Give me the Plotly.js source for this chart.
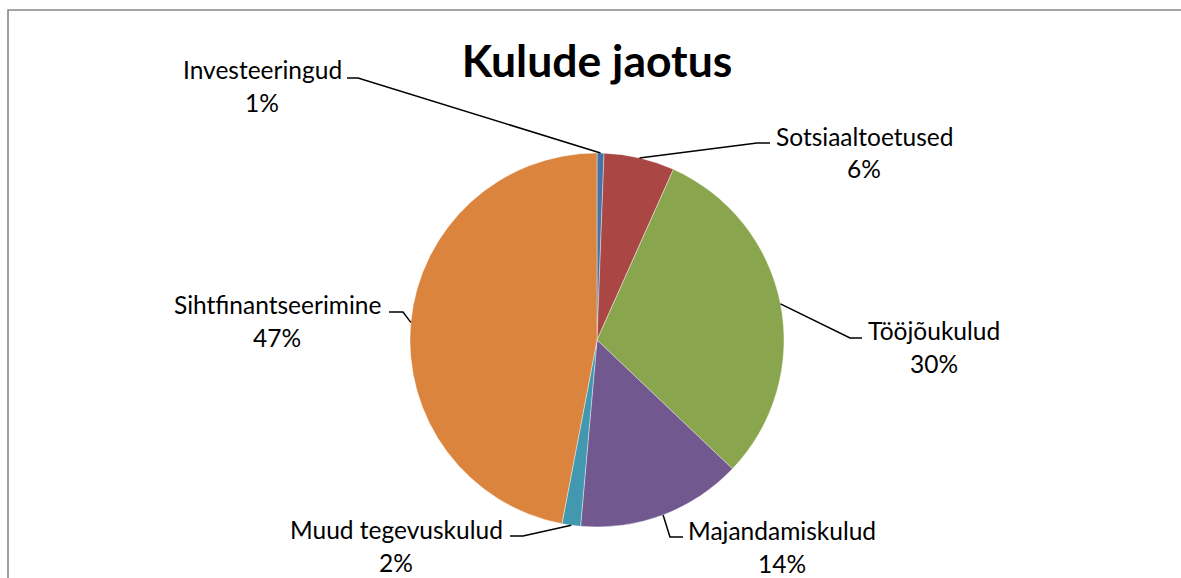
<!DOCTYPE html>
<html>
<head>
<meta charset="utf-8">
<script src="https://cdn.plot.ly/plotly-3.0.1.min.js"></script>
<style>
html,body{margin:0;padding:0;background:#fff;}
#chart{width:1181px;height:578px;}
</style>
</head>
<body>
<div id="chart"></div>
<script>
// ---- data ----
const categories = ['Investeeringud', 'Sotsiaaltoetused', 'Tööjõukulud', 'Majandamiskulud', 'Muud tegevuskulud', 'Sihtfinantseerimine'];
const values = [0.6, 6.1, 30.4, 14.3, 1.6, 47.0];
const sliceColors = ['#4572A7', '#AA4643', '#89A54E', '#71588F', '#4198AF', '#DB843D'];
const chartTitle = 'Kulude jaotus';

// ---- layout geometry (pixels) ----
const W = 1181, H = 578;
const CX = 597, CY = 340, R = 187;
const FONT = 'Lato, "Noto Sans", sans-serif';
// label block: text centre x, baseline of first line, leader elbow and end
const labelGeom = [
  {x: 262, base: 78, elbow: [358, 78], end: [347, 78]},
  {x: 864, base: 144, elbow: [757, 143], end: [770, 143]},
  {x: 934, base: 338, elbow: [850, 338], end: [862, 338]},
  {x: 782, base: 538, elbow: [670, 537], end: [683, 537]},
  {x: 396, base: 537, elbow: [523, 536], end: [510, 536]},
  {x: 277, base: 312, elbow: [403, 312], end: [389, 312]}
];
const LINE_GAP = 33;
const FS = 24.5;
const BASE_SHIFT = 8; // from baseline to visual middle of the annotation box

const px = x => x / W;
const py = y => 1 - y / H;

const total = values.reduce((a, b) => a + b, 0);
const shapes = [];
const annotations = [];
let cum = 0;
values.forEach((v, i) => {
  const mid = (cum + v / 2) / total * 2 * Math.PI;
  cum += v;
  const ex = CX + R * Math.sin(mid);
  const ey = CY - R * Math.cos(mid);
  const g = labelGeom[i];
  shapes.push({
    type: 'path', xref: 'paper', yref: 'paper',
    path: `M ${px(ex)} ${py(ey)} L ${px(g.elbow[0])} ${py(g.elbow[1])} L ${px(g.end[0])} ${py(g.end[1])}`,
    line: {color: '#000', width: 1.5}
  });
  const pct = Math.round(v / total * 100) + '%';
  annotations.push({
    xref: 'paper', yref: 'paper', x: px(g.x), y: py(g.base - BASE_SHIFT),
    xanchor: 'center', yanchor: 'middle', showarrow: false,
    text: categories[i], font: {family: FONT, size: FS, color: '#000'}
  });
  annotations.push({
    xref: 'paper', yref: 'paper', x: px(g.x), y: py(g.base + LINE_GAP - BASE_SHIFT),
    xanchor: 'center', yanchor: 'middle', showarrow: false,
    text: pct, font: {family: FONT, size: FS, color: '#000'}
  });
});

// chart border (left and top edges visible)
shapes.push({
  type: 'path', xref: 'paper', yref: 'paper',
  path: `M ${px(8)} 0 L ${px(8)} ${py(10)} L 1 ${py(10)}`,
  line: {color: '#888888', width: 1.6}
});

const trace = {
  type: 'pie',
  labels: categories,
  values: values,
  sort: false,
  direction: 'clockwise',
  rotation: 0,
  textinfo: 'none',
  hoverinfo: 'label+percent',
  marker: {colors: sliceColors, line: {color: '#ffffff', width: 0.4}},
  domain: {x: [px(CX - R), px(CX + R)], y: [py(CY + R), py(CY - R)]},
  showlegend: false
};

const layout = {
  width: W, height: H,
  margin: {l: 0, r: 0, t: 0, b: 0},
  paper_bgcolor: '#fff',
  title: {
    text: '<b>' + chartTitle + '</b>',
    x: px(597), xanchor: 'center', xref: 'paper',
    y: py(61), yanchor: 'middle', yref: 'paper',
    font: {family: FONT, size: 44.5, color: '#000'}
  },
  shapes: shapes,
  annotations: annotations,
  showlegend: false
};

Plotly.newPlot('chart', [trace], layout, {displayModeBar: false, staticPlot: true});
</script>
</body>
</html>
